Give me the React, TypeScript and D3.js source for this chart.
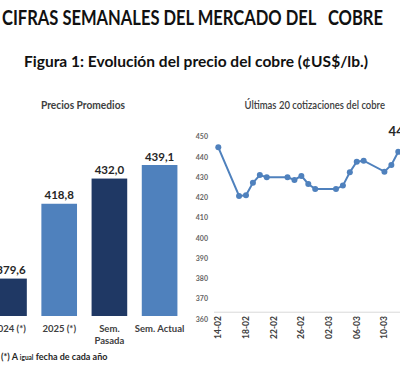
import { useEffect, useRef } from 'react';
import * as d3 from 'd3';

// Precios promedios (¢US$/lb.)
const barCategories = ['2024 (*)', '2025 (*)', 'Sem. Pasada', 'Sem. Actual'];
const barValues = [379.6, 418.8, 432.0, 439.1];
const barColors = ['#1f3864', '#4f81bd', '#1f3864', '#4f81bd'];

// Últimas 20 cotizaciones
const quoteDates = [
  '2025-02-14', '2025-02-17', '2025-02-18', '2025-02-19', '2025-02-20',
  '2025-02-21', '2025-02-24', '2025-02-25', '2025-02-26', '2025-02-27',
  '2025-02-28', '2025-03-03', '2025-03-04', '2025-03-05', '2025-03-06',
  '2025-03-07', '2025-03-10', '2025-03-11', '2025-03-12', '2025-03-13'
];
const quoteValues = [
  444.9, 420.9, 421.2, 427.4, 431.2,
  430.1, 430.1, 428.8, 430.8, 426.8,
  424.3, 424.3, 426.0, 432.6, 437.8,
  438.3, 432.9, 436.2, 442.7, 444.6
];
const yTicks = [360, 370, 380, 390, 400, 410, 420, 430, 440, 450];

const FONT = 'Lato, "Open Sans", sans-serif';

function App() {
  const svgRef = useRef(null);

  useEffect(() => {
    const svg = d3.select(svgRef.current);
    svg.selectAll('*').remove();

    const es = d3.formatLocale({ decimal: ',', thousands: '.', grouping: [3], currency: ['', ''] });
    const fmt = es.format('.1f');
    const parse = d3.timeParse('%Y-%m-%d');

    // Títulos
    svg.append('text')
      .attr('x', 2).attr('y', 25)
      .attr('font-size', 20).attr('font-weight', 700).attr('fill', '#111')
      .attr('textLength', 381).attr('lengthAdjust', 'spacingAndGlyphs')
      .style('white-space', 'pre')
      .text('CIFRAS SEMANALES DEL MERCADO DEL   COBRE');

    svg.append('text')
      .attr('x', 24).attr('y', 67)
      .attr('font-size', 15.5).attr('font-weight', 700).attr('fill', '#111')
      .attr('textLength', 344).attr('lengthAdjust', 'spacingAndGlyphs')
      .text('Figura 1: Evolución del precio del cobre (¢US$/lb.)');

    // ---- Gráfico de barras ----
    const x = d3.scaleBand()
      .domain(barCategories)
      .range([-16.1, 184.7])
      .paddingInner(0.29)
      .paddingOuter(0.145);
    const y = d3.scaleLinear().domain([360, 450]).range([316, 144.2]);

    svg.append('text')
      .attr('x', 41).attr('y', 109)
      .attr('font-size', 10.5).attr('font-weight', 700).attr('fill', '#404040')
      .attr('textLength', 84).attr('lengthAdjust', 'spacingAndGlyphs')
      .text('Precios Promedios');

    const bars = svg.append('g');
    bars.selectAll('rect')
      .data(barValues)
      .join('rect')
      .attr('x', (d, i) => x(barCategories[i]))
      .attr('width', x.bandwidth())
      .attr('y', d => y(d))
      .attr('height', d => y(360) - y(d))
      .attr('fill', (d, i) => barColors[i]);

    bars.selectAll('text.val')
      .data(barValues)
      .join('text')
      .attr('class', 'val')
      .attr('x', (d, i) => x(barCategories[i]) + x.bandwidth() / 2 + (i === 0 ? 2 : 0))
      .attr('y', d => y(d) - 4.5)
      .attr('text-anchor', 'middle')
      .attr('font-size', 11.5).attr('font-weight', 700).attr('fill', '#262626')
      .text(d => fmt(d));

    barCategories.forEach(c => {
      const cx = x(c) + x.bandwidth() / 2;
      const lines = c === 'Sem. Pasada' ? ['Sem.', 'Pasada'] : [c];
      lines.forEach((l, j) => {
        svg.append('text')
          .attr('x', cx).attr('y', 332 + j * 11.5)
          .attr('text-anchor', 'middle')
          .attr('font-size', 9.5).attr('font-weight', 700).attr('fill', '#404040')
          .text(l);
      });
    });

    const note = svg.append('text')
      .attr('x', 1).attr('y', 360)
      .attr('font-size', 9).attr('font-weight', 700).attr('fill', '#262626');
    note.append('tspan').text('(*) A ');
    note.append('tspan').attr('font-size', 6.5).text('igual');
    note.append('tspan').text(' fecha de cada año');

    // ---- Gráfico de líneas ----
    const dates = quoteDates.map(parse);
    const xt = d3.scaleTime()
      .domain([dates[0], dates[dates.length - 1]])
      .range([218.3, 405.2]);
    const yl = d3.scaleLinear().domain([360, 450]).range([319.3, 137]);

    svg.append('text')
      .attr('x', 244.5).attr('y', 109)
      .attr('font-size', 11).attr('font-weight', 600).attr('fill', '#404040')
      .attr('textLength', 140.5).attr('lengthAdjust', 'spacingAndGlyphs')
      .text('Últimas 20 cotizaciones del cobre');

    svg.append('g').selectAll('text')
      .data(yTicks)
      .join('text')
      .attr('x', 208).attr('y', d => yl(d))
      .attr('dy', '0.35em')
      .attr('text-anchor', 'end')
      .attr('font-size', 7).attr('font-weight', 700).attr('fill', '#666')
      .text(d => d);

    svg.append('line')
      .attr('x1', 214).attr('x2', 400)
      .attr('y1', yl(363.5)).attr('y2', yl(363.5))
      .attr('stroke', '#d9d9d9').attr('stroke-width', 1);

    const tickDates = d3.timeDay.range(dates[0], d3.timeDay.offset(dates[dates.length - 1], 2), 4);
    svg.append('g').selectAll('text')
      .data(tickDates)
      .join('text')
      .attr('transform', d => `translate(${xt(d)},316) rotate(-90)`)
      .attr('dy', '0.35em')
      .attr('text-anchor', 'end')
      .attr('font-size', 8.5).attr('font-weight', 700).attr('fill', '#404040')
      .text(d => d3.timeFormat('%d-%m')(d));

    const line = d3.line()
      .x((d, i) => xt(dates[i]))
      .y(d => yl(d));

    svg.append('path')
      .datum(quoteValues)
      .attr('d', line)
      .attr('fill', 'none')
      .attr('stroke', '#4f81bd')
      .attr('stroke-width', 2);

    svg.append('g').selectAll('circle')
      .data(quoteValues)
      .join('circle')
      .attr('cx', (d, i) => xt(dates[i]))
      .attr('cy', d => yl(d))
      .attr('r', 3)
      .attr('fill', '#4f81bd');

    const last = quoteValues.length - 1;
    svg.append('text')
      .attr('x', xt(dates[last])).attr('y', yl(quoteValues[last]) - 12)
      .attr('text-anchor', 'middle')
      .attr('font-size', 13).attr('font-weight', 700).attr('fill', '#262626')
      .text(fmt(quoteValues[last]));
  }, []);

  return (
    <svg
      ref={svgRef}
      width={400}
      height={365}
      style={{ position: 'absolute', left: 0, top: 0, background: '#fff', fontFamily: FONT }}
    />
  );
}

export default App;
